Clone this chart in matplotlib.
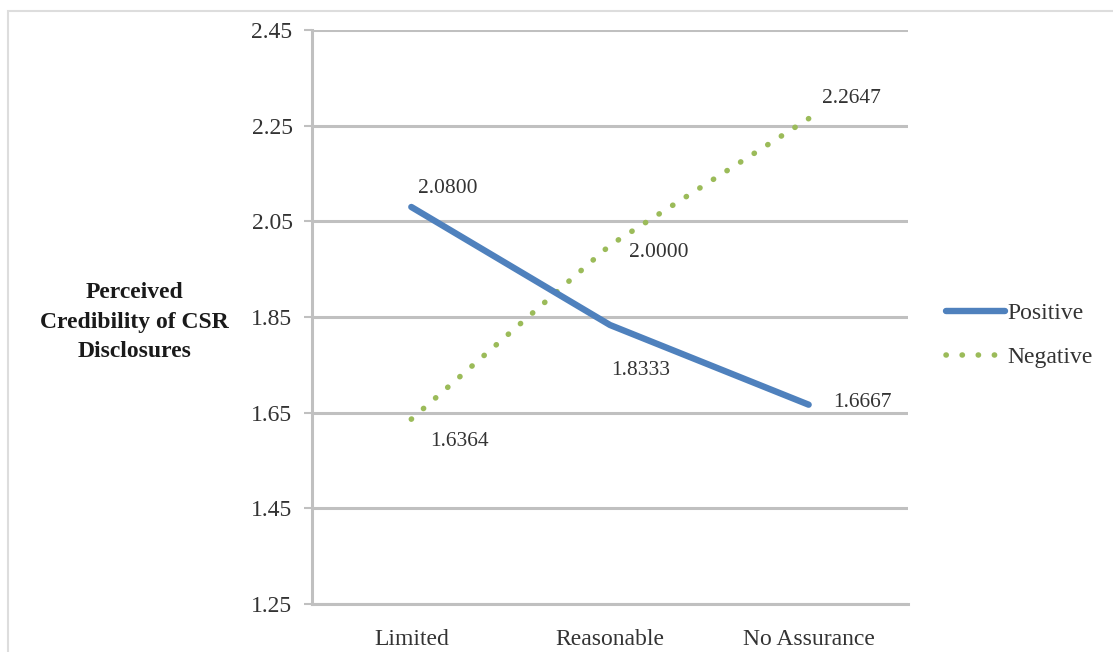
"""
Perceived credibility of CSR disclosures by assurance level and news type
"""

import matplotlib
matplotlib.use("Agg")
import matplotlib.pyplot as plt
from matplotlib.lines import Line2D
from matplotlib.patches import Rectangle

# données
categories = ["Limited", "Reasonable", "No Assurance"]
positive = [2.0800, 1.8333, 1.6667]
negative = [1.6364, 2.0000, 2.2647]
y_ticks = [1.25, 1.45, 1.65, 1.85, 2.05, 2.25, 2.45]

BLUE = "#4F81BD"
GREEN = "#9BBB59"
GRID = "#C0C0C0"
TEXT = "#333333"
DOTS = (0, (0.05, 2.85))

plt.rcParams["font.family"] = ["Liberation Serif", "DejaVu Serif"]

fig = plt.figure(figsize=(11.13, 6.52), dpi=100)
ax = fig.add_axes([0.2803, 0.0736, 0.5355, 0.8804])

x = list(range(len(categories)))

# grille horizontale
for t in y_ticks:
    ax.axhline(t, color=GRID, linewidth=2.2, zorder=0)

ax.plot(x, positive, color=BLUE, linewidth=4.6, solid_capstyle="round",
        solid_joinstyle="round", label="Positive", zorder=3)
ax.plot(x, negative, color=GREEN, linewidth=4.0, linestyle=DOTS,
        dash_capstyle="round", label="Negative", zorder=2)

# étiquettes de valeurs (décalages en points)
pos_offsets = [(26, 13), (22, -32.5), (39, 1.5)]
neg_offsets = [(35, -16), (35, -5.5), (31, 14.5)]
for i in x:
    dx, dy = pos_offsets[i]
    ax.annotate(f"{positive[i]:.4f}", (i, positive[i]), xytext=(dx, dy),
                textcoords="offset points", fontsize=15.5, color=TEXT,
                ha="center", va="center")
    dx, dy = neg_offsets[i]
    ax.annotate(f"{negative[i]:.4f}", (i, negative[i]), xytext=(dx, dy),
                textcoords="offset points", fontsize=15.5, color=TEXT,
                ha="center", va="center")

ax.set_xlim(-0.5, 2.5)
ax.set_ylim(1.25, 2.45)
ax.set_yticks(y_ticks)
ax.set_yticklabels([f"{t:.2f}" for t in y_ticks], fontsize=17, color=TEXT)
ax.set_xticks(x)
ax.set_xticklabels(categories, fontsize=17, color=TEXT)
ax.tick_params(axis="y", length=6, width=1.5, color=GRID, pad=8)
ax.tick_params(axis="x", length=0, pad=18)

for side in ["top", "right"]:
    ax.spines[side].set_visible(False)
ax.spines["left"].set_color(GRID)
ax.spines["left"].set_linewidth(2.2)
ax.spines["bottom"].set_color(GRID)
ax.spines["bottom"].set_linewidth(2.2)

fig.text(0.121, 0.506, "Perceived\nCredibility of CSR\nDisclosures",
         ha="center", va="center", fontsize=17, fontweight="bold",
         linespacing=1.55, color="#1a1a1a")

handles = [
    Line2D([], [], color=BLUE, linewidth=4.6, solid_capstyle="round"),
    Line2D([], [], color=GREEN, linewidth=4.0, linestyle=DOTS,
           dash_capstyle="round"),
]
fig.legend(handles, ["Positive", "Negative"], loc="center left",
           bbox_to_anchor=(0.831, 0.4854), frameon=False, fontsize=17,
           handlelength=2.5, handletextpad=0.1, labelspacing=0.95,
           labelcolor=TEXT)

# cadre gris clair autour de l'image
fig.patches.append(Rectangle((0.0075, -0.05), 1.1, 1.033, transform=fig.transFigure,
                             fill=False, edgecolor="#DDDDDD", linewidth=1.5))

fig.savefig("out.png", dpi=100)
